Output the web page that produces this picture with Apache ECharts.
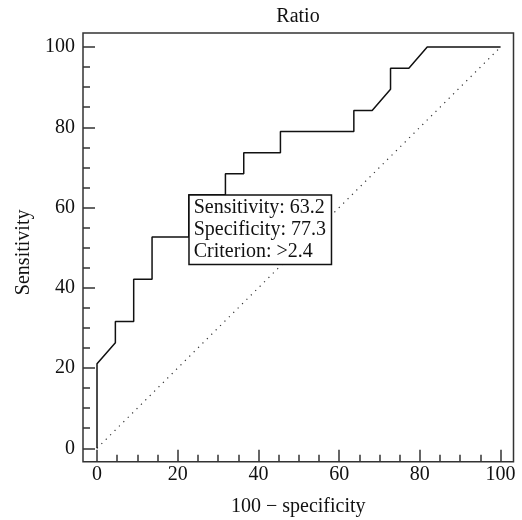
<!DOCTYPE html>
<html>
<head>
<meta charset="utf-8">
<script src="https://cdn.jsdelivr.net/npm/echarts@6/dist/echarts.min.js"></script>
<style>
html,body{margin:0;padding:0;background:#fff;}
#chart{width:522px;height:520px;}
</style>
</head>
<body>
<div id="chart"></div>
<script>
// ROC curve data (100 - specificity, sensitivity)
const fprValues = [0, 0, 4.55, 4.55, 9.09, 9.09, 13.64, 13.64, 22.73, 22.73, 31.82, 31.82, 36.36, 36.36, 45.45, 45.45, 63.64, 63.64, 68.18, 72.73, 72.73, 77.27, 81.82, 100];
const tprValues = [0, 21.05, 26.32, 31.58, 31.58, 42.11, 42.11, 52.63, 52.63, 63.16, 63.16, 68.42, 68.42, 73.68, 73.68, 78.95, 78.95, 84.21, 84.21, 89.47, 94.74, 94.74, 100, 100];
const diagonalX = [0, 100];
const diagonalY = [0, 100];
const criterionPoint = [22.73, 63.16];
const criterionLines = ['Sensitivity: 63.2', 'Specificity: 77.3', 'Criterion: >2.4'];
const majorTicks = [0, 20, 40, 60, 80, 100];
const minorTicks = [5, 10, 15, 25, 30, 35, 45, 50, 55, 65, 70, 75, 85, 90, 95];
const titleText = 'Ratio';
const xName = '100 \u2212 specificity';
const yName = 'Sensitivity';

const FONT = "'Liberation Serif', 'DejaVu Serif', serif";
const TXT = '#111';
const rocData = fprValues.map((x, i) => [x, tprValues[i]]);
const diagData = diagonalX.map((x, i) => [x, diagonalY[i]]);

const xMin = -3.47, xMax = 103.2, yMin = -3.34, yMax = 103.5;

function axisCommon(isX, major) {
  return {
    type: 'value',
    min: isX ? xMin : yMin,
    max: isX ? xMax : yMax,
    position: isX ? 'bottom' : 'left',
    axisLine: { show: false, onZero: false },
    splitLine: { show: false },
    axisTick: {
      show: true, inside: true,
      length: major ? 12 : 7,
      lineStyle: { color: '#333', width: 1.5 },
      customValues: major ? majorTicks : minorTicks
    },
    axisLabel: major ? {
      show: true,
      customValues: majorTicks,
      color: TXT, fontFamily: FONT, fontSize: 20,
      margin: isX ? 3 : 8
    } : { show: false },
    name: major ? (isX ? xName : yName) : '',
    nameLocation: 'middle',
    nameGap: isX ? 35 : 48,
    nameTextStyle: isX
      ? { color: TXT, fontFamily: FONT, fontSize: 20 }
      : { color: TXT, fontFamily: FONT, fontSize: 20, padding: [0, 10, 0, 0] }
  };
}

const chart = echarts.init(document.getElementById('chart'), null, { renderer: 'canvas' });
chart.setOption({
  animation: false,
  backgroundColor: '#fff',
  title: {
    text: titleText,
    left: 298, top: 7, textAlign: 'center', padding: 0,
    textStyle: { color: TXT, fontFamily: FONT, fontSize: 20, fontWeight: 'normal' }
  },
  grid: {
    left: 83, right: 8.5, top: 33, bottom: 58.3,
    outerBoundsMode: 'none',
    containLabel: false,
    show: true, borderColor: '#333', borderWidth: 1.5, backgroundColor: 'transparent'
  },
  xAxis: [axisCommon(true, true), axisCommon(true, false)],
  yAxis: [axisCommon(false, true), axisCommon(false, false)],
  series: [
    {
      type: 'line', data: diagData, symbol: 'none', z: 1,
      lineStyle: { color: '#333', width: 1.2, type: [1.2, 5] },
      silent: true
    },
    {
      type: 'line', data: rocData, symbol: 'none', z: 2,
      lineStyle: { color: '#111', width: 1.5 },
      silent: true
    },
    {
      type: 'scatter', data: [criterionPoint], symbolSize: 1,
      zlevel: 1, z: 10,
      silent: true,
      itemStyle: { opacity: 0 },
      emphasis: { disabled: true },
      label: {
        show: true,
        position: [1.5, 1.5],
        align: 'left', verticalAlign: 'top',
        formatter: () => criterionLines.join('\n'),
        color: TXT, fontFamily: FONT, fontSize: 20, lineHeight: 22,
        opacity: 1,
        backgroundColor: '#fff', borderColor: '#111', borderWidth: 1.5,
        padding: [1, 4, 1, 4], width: 133
      },
      labelLayout: { hideOverlap: false }
    }
  ]
});
</script>
</body>
</html>
